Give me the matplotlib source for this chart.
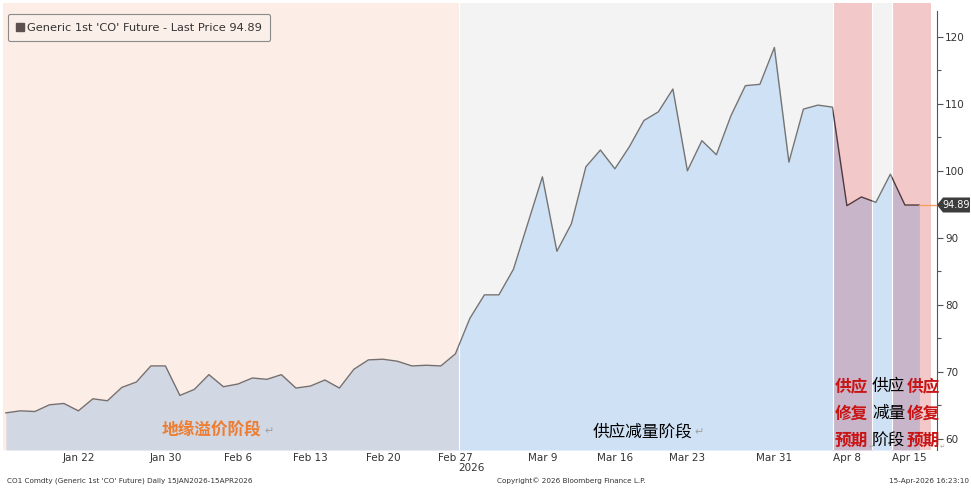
import matplotlib
matplotlib.use("Agg")
import matplotlib.pyplot as plt
from matplotlib.lines import Line2D
from matplotlib.patches import Rectangle, Polygon

plt.rcParams['font.family'] = ['DejaVu Sans', 'Noto Sans CJK SC']
CJK = ['Noto Sans CJK SC', 'DejaVu Sans']

# trading days 15 Jan 2026 - 15 Apr 2026, Brent front month
dates = ['Jan 15', 'Jan 16', 'Jan 19', 'Jan 20', 'Jan 21', 'Jan 22', 'Jan 23', 'Jan 26',
         'Jan 27', 'Jan 28', 'Jan 29', 'Jan 30', 'Feb 2', 'Feb 3', 'Feb 4', 'Feb 5',
         'Feb 6', 'Feb 9', 'Feb 10', 'Feb 11', 'Feb 12', 'Feb 13', 'Feb 16', 'Feb 17',
         'Feb 18', 'Feb 19', 'Feb 20', 'Feb 23', 'Feb 24', 'Feb 25', 'Feb 26', 'Feb 27',
         'Mar 2', 'Mar 3', 'Mar 4', 'Mar 5', 'Mar 6', 'Mar 9', 'Mar 10', 'Mar 11',
         'Mar 12', 'Mar 13', 'Mar 16', 'Mar 17', 'Mar 18', 'Mar 19', 'Mar 20', 'Mar 23',
         'Mar 24', 'Mar 25', 'Mar 26', 'Mar 27', 'Mar 30', 'Mar 31', 'Apr 1', 'Apr 2',
         'Apr 6', 'Apr 7', 'Apr 8', 'Apr 9', 'Apr 10', 'Apr 13', 'Apr 14', 'Apr 15']
prices = [63.9, 64.2, 64.1, 65.1, 65.3, 64.2, 66.0, 65.7, 67.7, 68.5, 70.9, 70.9,
          66.5, 67.4, 69.6, 67.8, 68.2, 69.1, 68.9, 69.6, 67.6, 67.9, 68.8, 67.6,
          70.4, 71.8, 71.9, 71.6, 70.9, 71.0, 70.9, 72.7,
          78.0, 81.5, 81.5, 85.3, 92.2, 99.1, 88.0, 92.1, 100.6, 103.1, 100.3, 103.6,
          107.5, 108.8, 112.2, 100.0, 104.5, 102.4, 108.2, 112.7, 112.9, 118.4, 101.3,
          109.2, 109.8, 109.5, 94.8, 96.1, 95.3, 99.5, 94.9, 94.89]
last_price = 94.89

tick_labels = ['Jan 22', 'Jan 30', 'Feb 6', 'Feb 13', 'Feb 20', 'Feb 27',
               'Mar 9', 'Mar 16', 'Mar 23', 'Mar 31', 'Apr 8', 'Apr 15']
tick_pos = [5, 11, 16, 21, 26, 31, 37, 42, 47, 53, 58, 62.3]

W, H = 971, 491
def fx(x):
    return x / W
def fy(y):
    return 1 - y / H

fig = plt.figure(figsize=(W / 100, H / 100), dpi=100)
ax = fig.add_axes([fx(3), fy(450), fx(931) - fx(3), fy(3) - fy(450)])
x = list(range(len(prices)))
x0, x1 = -0.2, 63.8
y0, y1 = 58.36, 125.03
ax.set_xlim(x0, x1)
ax.set_ylim(y0, y1)

# background phases: (start, end, bg colour, fill colour, line colour)
regions = [(x0, 31.25, '#fcede6', '#d2d7e4', '#757070'),
           (31.25, 57.05, '#f3f3f3', '#cfe1f5', '#747474'),
           (57.05, 59.7, '#f2c8c9', '#c8b5ca', '#503a3c'),
           (59.7, 61.08, '#f3f3f3', '#cfe1f5', '#747474'),
           (61.08, x1, '#f2c8c9', '#c8b5ca', '#503a3c')]
for a, b, bg, fc, lc in regions:
    ax.axvspan(a, b, color=bg, lw=0, zorder=0)
    clip = Rectangle((a, y0), b - a, y1 - y0, transform=ax.transData)
    f = ax.fill_between(x, prices, y0, color=fc, lw=0, zorder=1)
    f.set_clip_path(clip)
    ln, = ax.plot(x, prices, color=lc, lw=1.0, zorder=3)
    ln.set_clip_path(clip)
for b in [31.25, 57.05, 59.7, 61.08]:
    ax.axvline(b, color='white', lw=0.8, zorder=2)

ax.plot([x[-1], x1 + 0.45], [last_price, last_price], color='#f2a35e', lw=1.0,
        zorder=3, clip_on=False)

for s in ['top', 'left', 'bottom']:
    ax.spines[s].set_visible(False)
ax.spines['right'].set_position(('outward', 4.3))
ax.spines['right'].set_color('#555555')
ax.spines['right'].set_linewidth(0.8)
ax.spines['right'].set_bounds(y0, 123.8)
ax.yaxis.tick_right()
ax.set_yticks(range(60, 121, 10))
ax.set_yticks(range(65, 121, 10), minor=True)
ax.tick_params(axis='y', which='major', length=4, width=0.8, color='#555555',
               labelsize=7.5, labelcolor='#333333', pad=2)
ax.tick_params(axis='y', which='minor', length=3, width=0.8, color='#555555')
ax.set_xticks(tick_pos)
ax.set_xticklabels(tick_labels)
ax.tick_params(axis='x', length=0, labelsize=7.5, labelcolor='#333333', pad=2)
fig.text(fx(471), fy(468), '2026', ha='center', va='center', fontsize=7.5, color='#333333')

# legend
h = Line2D([], [], marker='s', ls='none', color='#5e5050', markersize=5.5)
leg = ax.legend([h], ["Generic 1st 'CO' Future - Last Price 94.89"], loc='upper left',
                bbox_to_anchor=(fx(8), fy(14)), bbox_transform=fig.transFigure,
                borderaxespad=0, fancybox=True, framealpha=1, facecolor='#fbefea',
                edgecolor='#8a8a8a', fontsize=8.2, handlelength=0.6,
                handletextpad=0.3, borderpad=0.75, labelcolor='#333333')
leg.get_frame().set_linewidth(0.8)

# last price tag
tag = Polygon([(fx(937), fy(205)), (fx(943), fy(197.5)), (fx(970), fy(197.5)),
               (fx(970), fy(212.5)), (fx(943), fy(212.5))], closed=True,
              transform=fig.transFigure, fc='#3c3c3c', ec='none')
fig.add_artist(tag)
fig.text(fx(956.5), fy(205), '94.89', ha='center', va='center', fontsize=7, color='white')

# phase annotations
fig.text(fx(162), fy(431), '地缘溢价阶段', family=CJK, fontsize=12, weight='bold',
         color='#ed7d31', ha='left', va='center')
fig.text(fx(264), fy(431), '↵', family=CJK, fontsize=8, color='#a0a0a0', ha='left', va='center')
fig.text(fx(593), fy(432), '供应减量阶段', family=CJK, fontsize=12, color='black',
         ha='left', va='center')
fig.text(fx(694), fy(432), '↵', family=CJK, fontsize=8, color='#a0a0a0', ha='left', va='center')
columns = [(835, ['供应', '修复', '预期'], '#c81414', 'bold'),
           (872, ['供应', '减量', '阶段'], 'black', 'normal'),
           (906.5, ['供应', '修复', '预期'], '#c81414', 'bold')]
for cx, words, col, wt in columns:
    for k, w in enumerate(words):
        fig.text(fx(cx), fy(386.5 + 27.3 * k), w, family=CJK, fontsize=12, color=col,
                 weight=wt, ha='left', va='center')
    fig.text(fx(cx + 33.5), fy(446), '↵', family=CJK, fontsize=4.5, color='#a0a0a0',
             ha='left', va='center')

# footer
fig.text(fx(7), fy(481), "CO1 Comdty (Generic 1st 'CO' Future) Daily 15JAN2026-15APR2026",
         fontsize=5.2, color='#333333', ha='left', va='center')
fig.text(fx(571), fy(481), 'Copyright© 2026 Bloomberg Finance L.P.', fontsize=5.2,
         color='#333333', ha='center', va='center')
fig.text(fx(969), fy(481), '15-Apr-2026 16:23:10', fontsize=5.2, color='#333333',
         ha='right', va='center')

fig.savefig('out.png', dpi=100)
